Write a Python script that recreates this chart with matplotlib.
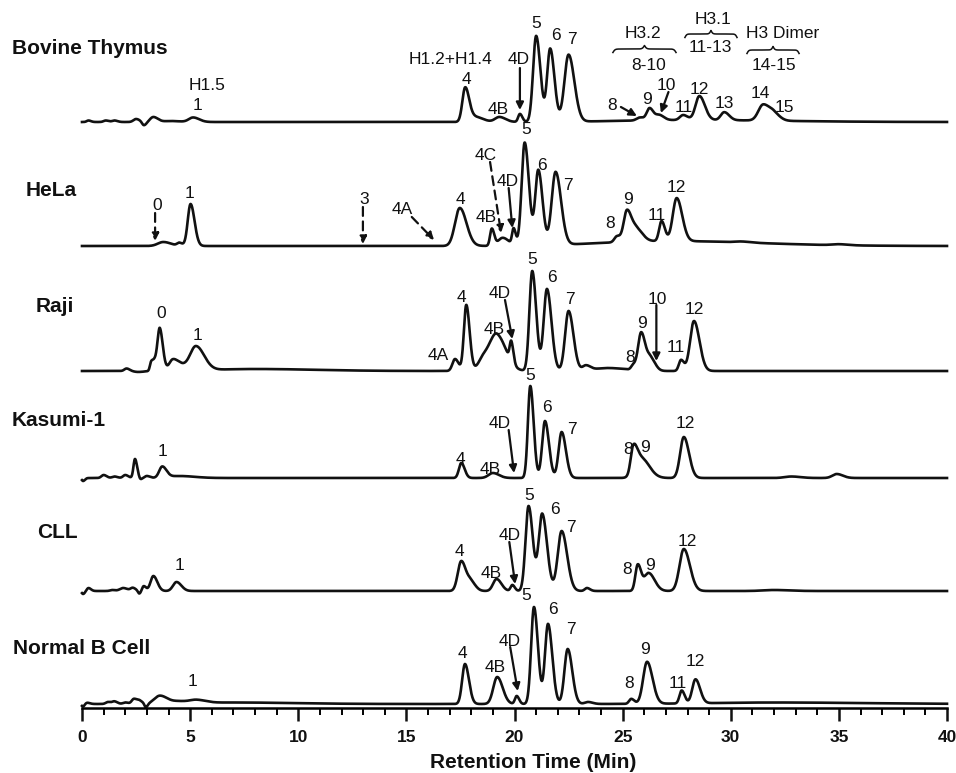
import numpy as np
import matplotlib
matplotlib.use('Agg')
import matplotlib.pyplot as plt

plt.rcParams['font.family'] = ['Liberation Sans', 'DejaVu Sans']

# ---------------- data (peaks) ----------------
samples = ['Bovine Thymus', 'HeLa', 'Raji', 'Kasumi-1', 'CLL', 'Normal B Cell']

bovine_rt = [0.3, 1.1, 1.5, 2.5, 2.86, 3.3, 4.1, 5.14, 17.72, 18.2, 19.3, 20.25, 21.0, 21.65, 22.5,
             25.8, 26.25, 26.7, 27.8, 28.55, 29.7, 31.5, 32.0, 28.0]
bovine_h = [1.5, 1.5, 1.5, 3, -3.5, 5, 1, 4.5, 34, 5, 5, 8, 86, 73, 67,
            3, 12, 5, 5, 24, 8, 16, 6, 2]
bovine_w = [0.08, 0.1, 0.1, 0.12, 0.08, 0.15, 0.3, 0.2, 0.13, 0.25, 0.2, 0.08, 0.14, 0.14, 0.19,
            0.15, 0.13, 0.15, 0.15, 0.18, 0.16, 0.22, 0.2, 3.0]

hela_rt = [3.76, 4.5, 5.02, 17.47, 18.95, 19.45, 19.96, 20.47, 21.1, 21.9, 24.74, 25.2, 25.65,
           26.8, 27.5, 27.0, 30.5, 35.0]
hela_h = [4, 3, 42, 38, 17, 8, 16, 103, 75, 73, 6, 31, 12, 20, 43, 5, 1, 1]
hela_w = [0.25, 0.1, 0.13, 0.22, 0.08, 0.2, 0.07, 0.14, 0.14, 0.18, 0.12, 0.15, 0.2, 0.11, 0.18,
          3.0, 0.3, 0.3]

raji_rt = [2.06, 2.6, 3.2, 3.38, 3.6, 4.2, 4.6, 5.27, 8.0, 17.25, 17.77, 18.6, 19.2, 19.85, 20.82,
           21.5, 22.5, 23.3, 24.3, 25.5, 25.86, 26.3, 27.7, 28.3]
raji_h = [2.5, -1, 8, 10, 40, 11, 4, 24, 2, 12, 66, 14, 34, 20, 100, 82, 60, 5, 3, 5, 38, 12, 11, 50]
raji_w = [0.1, 0.2, 0.06, 0.1, 0.1, 0.17, 0.2, 0.27, 2.0, 0.12, 0.11, 0.25, 0.3, 0.07, 0.13,
          0.15, 0.16, 0.15, 0.6, 0.1, 0.14, 0.15, 0.1, 0.18]

kasumi_rt = [0.05, 1.0, 1.5, 2.0, 2.45, 2.7, 3.0, 3.71, 4.5, 17.54, 19.0, 20.73, 21.41, 22.18,
             25.49, 25.85, 27.83, 32.8, 34.9]
kasumi_h = [-3, 3, 1.5, 3, 19, -1.5, 2, 11, 2, 15, 5, 92, 57, 46, 25, 20, 41, 1.5, 4]
kasumi_w = [0.06, 0.1, 0.1, 0.1, 0.07, 0.05, 0.1, 0.14, 0.5, 0.11, 0.2, 0.11, 0.13, 0.14,
            0.12, 0.27, 0.17, 0.3, 0.2]

cll_rt = [0.05, 0.3, 1.4, 1.9, 2.35, 2.65, 2.85, 3.3, 4.37, 17.54, 18.0, 19.17, 19.9, 20.65, 21.28,
          22.18, 23.35, 25.7, 26.2, 27.83, 32.0]
cll_h = [-3, 3, 1, 3, 3, -3, 5, 15, 9, 30, 8, 12, 6, 85, 77, 60, 3, 26, 18, 42, 1]
cll_w = [0.06, 0.08, 0.1, 0.15, 0.1, 0.06, 0.08, 0.13, 0.16, 0.16, 0.15, 0.16, 0.08, 0.14, 0.16,
         0.18, 0.1, 0.11, 0.2, 0.2, 0.5]

normb_rt = [0.05, 0.2, 1.2, 1.5, 2.0, 2.4, 2.65, 2.95, 3.6, 4.5, 5.3, 7.0, 17.71, 19.2, 20.1, 20.9,
            21.55, 22.46, 23.4, 25.4, 26.13, 27.73, 28.37, 32.0]
normb_h = [-3, 1.5, 2, 2.5, 1.5, 5, 3, -4, 8, 2, 3, 1.5, 40, 27, 8, 97, 80, 55, 2, 5, 42, 13, 24, 1.5]
normb_w = [0.06, 0.1, 0.1, 0.1, 0.1, 0.1, 0.1, 0.06, 0.25, 0.3, 0.3, 2.0, 0.13, 0.18, 0.08, 0.13,
           0.14, 0.15, 0.15, 0.1, 0.18, 0.1, 0.15, 3.0]

x_ticks = [0, 5, 10, 15, 20, 25, 30, 35, 40]
x_label = 'Retention Time (Min)'

peak_sets = [(bovine_rt, bovine_h, bovine_w), (hela_rt, hela_h, hela_w),
             (raji_rt, raji_h, raji_w), (kasumi_rt, kasumi_h, kasumi_w),
             (cll_rt, cll_h, cll_w), (normb_rt, normb_h, normb_w)]

# peak labels: (text, time, height above trace baseline)
labels = [
    [('H1.5', 5.78, 36), ('1', 5.32, 16), ('H1.2+H1.4', 17.02, 62), ('4', 17.76, 42),
     ('4B', 19.24, 13), ('4D', 20.21, 62), ('5', 21.0, 99), ('6', 21.92, 87), ('7', 22.66, 82),
     ('8', 24.51, 16), ('9', 26.15, 22), ('10', 27.03, 36), ('11', 27.84, 15), ('12', 28.53, 33),
     ('13', 29.72, 19), ('14', 31.35, 28), ('15', 32.46, 15),
     ('H3.2', 25.94, 88), ('8-10', 26.2, 57), ('H3.1', 29.16, 102), ('11-13', 29.07, 74),
     ('H3 Dimer', 32.4, 89), ('14-15', 32.0, 57)],
    [('0', 3.48, 40), ('1', 4.99, 53), ('3', 13.04, 47), ('4A', 14.83, 37), ('4', 17.48, 46),
     ('4B', 18.67, 29), ('4C', 18.65, 91), ('4D', 19.7, 64), ('5', 20.53, 116), ('6', 21.25, 81),
     ('7', 22.45, 60), ('8', 24.4, 22), ('9', 25.25, 46), ('11', 26.56, 31), ('12', 27.5, 58)],
    [('0', 3.65, 58), ('1', 5.33, 36), ('4A', 16.49, 15), ('4', 17.56, 73), ('4B', 19.05, 42),
     ('4D', 19.3, 78), ('5', 20.83, 111), ('6', 21.73, 93), ('7', 22.58, 72), ('8', 25.33, 14),
     ('9', 25.88, 48), ('10', 26.61, 72), ('11', 27.45, 24), ('12', 28.3, 61)],
    [('1', 3.71, 27), ('4', 17.51, 19), ('4B', 18.88, 9), ('4D', 19.3, 55), ('5', 20.72, 103),
     ('6', 21.51, 70), ('7', 22.65, 49), ('8', 25.25, 28), ('9', 26.04, 30), ('12', 27.92, 55)],
    [('1', 4.49, 26), ('4', 17.45, 39), ('4B', 18.93, 18), ('4D', 19.76, 56), ('5', 20.67, 96),
     ('6', 21.85, 82), ('7', 22.61, 64), ('8', 25.2, 21), ('9', 26.27, 26), ('12', 27.97, 49)],
    [('1', 5.12, 23), ('4', 17.6, 51), ('4B', 19.13, 36), ('4D', 19.76, 62), ('5', 20.54, 109),
     ('6', 21.77, 94), ('7', 22.6, 75), ('8', 25.3, 21), ('9', 26.04, 55), ('11', 27.54, 21),
     ('12', 28.36, 43)],
]

# arrows: (t_from, h_from, t_to, h_to, dashed)
arrows = [
    [(20.25, 54, 20.25, 12, False), (24.92, 15, 25.66, 6, False), (27.12, 30, 26.77, 9, False)],
    [(3.38, 33, 3.38, 5, True), (12.99, 39, 12.99, 2, True), (15.25, 29, 16.28, 6, True),
     (18.87, 84, 19.38, 13, True), (19.73, 58, 19.9, 18, False)],
    [(19.56, 71, 19.9, 32, False), (26.56, 66, 26.56, 10, False)],
    [(19.73, 48, 19.98, 5, False)],
    [(19.76, 49, 20.03, 7, False)],
    [(19.8, 57, 20.15, 13, False)],
]

# braces on the bovine trace: (t_start, t_end, height)
braces = [(24.55, 27.47, 73), (27.88, 30.29, 88), (30.75, 33.16, 72)]

# ---------------- layout ----------------
W, H = 956, 773
baselines = [651, 527, 402, 295, 182, 69]         # vertical offsets of traces
name_pos = [(-3.24, 74), (-2.59, 55), (-2.13, 64), (-3.25, 57), (-2.07, 59), (-3.18, 56)]
TAIL = 1.4
ink = '#111111'

fig = plt.figure(figsize=(W / 100, H / 100), dpi=100)
ax = fig.add_axes([82 / W, 65 / H, (947 - 82) / W, 708 / H])
ax.set_xlim(0, 40)
ax.set_ylim(65, 773)

t = np.linspace(0, 40, 8001)


def trace(rt, hh, ww):
    y = np.zeros_like(t)
    for r, a, s in zip(rt, hh, ww):
        sig = np.where(t < r, s, s * TAIL)
        y += a * np.exp(-0.5 * ((t - r) / sig) ** 2)
    return y


for i, (rt, hh, ww) in enumerate(peak_sets):
    base = baselines[i]
    ax.plot(t, base + trace(rt, hh, ww), color=ink, lw=1.9, solid_joinstyle='round', clip_on=False)
    nx, nh = name_pos[i]
    ax.text(nx, base + nh, samples[i], fontsize=15, fontweight='bold', ha='left', va='center',
            color=ink, clip_on=False)
    for txt, lt, lh in labels[i]:
        ax.text(lt, base + lh, txt, fontsize=12.5, ha='center', va='center', color=ink)
    for t0, h0, t1, h1, dashed in arrows[i]:
        ax.annotate('', xy=(t1, base + h1), xytext=(t0, base + h0),
                    arrowprops=dict(arrowstyle='-|>', color=ink, lw=1.6,
                                    linestyle=(0, (4, 2.5)) if dashed else '-',
                                    mutation_scale=11, shrinkA=0, shrinkB=0))

# curly braces
for t1, t2, bh in braces:
    n = 201
    xh = np.linspace(0, 0.5, n // 2 + 1)
    beta = 60.0
    yh = 1 / (1 + np.exp(-beta * (xh - xh[0]))) + 1 / (1 + np.exp(-beta * (xh - xh[-1])))
    yy = np.concatenate((yh, yh[-2::-1]))
    xx = t1 + np.linspace(0, 1, len(yy)) * (t2 - t1)
    ax.plot(xx, baselines[0] + bh + (yy - 1.0) * 7, color=ink, lw=1.1)

for s in ['left', 'right', 'top']:
    ax.spines[s].set_visible(False)
ax.spines['bottom'].set_linewidth(1.8)
ax.set_yticks([])
ax.set_xticks(x_ticks)
ax.set_xticks(np.arange(0, 41, 1), minor=True)
ax.tick_params(axis='x', which='major', direction='out', length=9, width=1.8, pad=6.5,
               labelsize=12.5, colors=ink)
ax.tick_params(axis='x', which='minor', direction='out', length=5, width=1.4)
for lab in ax.get_xticklabels():
    lab.set_fontweight('bold')
ax.set_xlabel(x_label, fontsize=15, fontweight='bold', color=ink)
ax.xaxis.set_label_coords((533 - 82) / 865, -0.064)
ax.xaxis.label.set_va('top')

fig.savefig('out.png', dpi=100)
